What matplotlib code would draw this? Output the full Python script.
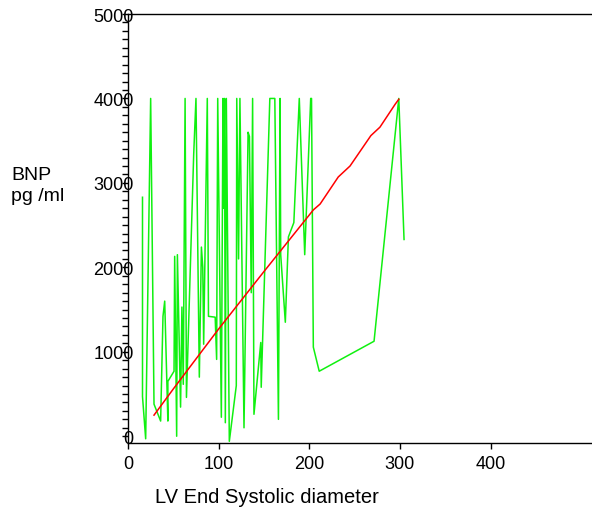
import numpy as np
import matplotlib
matplotlib.use("Agg")
import matplotlib.pyplot as plt
from matplotlib.ticker import MultipleLocator

plt.rcParams['font.family'] = ['Liberation Sans', 'DejaVu Sans']

# raw BNP values joined in order of LV end systolic diameter (green trace)
green_x = [16, 16, 19.5, 25, 28.7, 36, 38.6, 40.5, 44, 44,
           50.8, 51.5, 53.7, 54.5, 58, 59.5, 61, 63, 64.5, 72.5,
           75, 78.7, 81, 82.5, 83.5, 87.5, 88.8, 96.2, 97.8, 99,
           103, 104.8, 105.5, 106.5, 107.4, 108.5, 111.8, 119.5, 120, 122,
           123.5, 128, 132.5, 134, 136, 137.5, 139, 146.5, 147, 156.5,
           162, 166, 167.8, 168.5, 173.6, 177, 183, 189, 195, 201.6,
           202.5, 204.5, 211, 271.5, 298.8, 304.6]
green_y = [2830, 470, -30, 4000, 380, 180, 1420, 1600, 180, 650,
           770, 2130, 0, 2150, 345, 1530, 615, 4000, 460, 3340,
           4000, 700, 2240, 2000, 1090, 4000, 1420, 1410, 910, 4000,
           225, 4000, 2700, 4000, 160, 4000, -60, 600, 4000, 2100,
           4000, 100, 3600, 3550, 1700, 4000, 260, 1110, 580, 4000,
           4000, 200, 4000, 2150, 1350, 2360, 2530, 4000, 2150, 4000,
           4000, 1055, 770, 1125, 4000, 2330]

# fitted curve (red)
red_x = [28.7, 50, 100, 150, 204.5, 212, 232, 245, 268, 278, 294.7, 298.8]
red_y = [250, 560, 1270, 1950, 2680, 2750, 3070, 3200, 3560, 3660, 3930, 3990]

x_ticks = [0, 100, 200, 300, 400]
y_ticks = [0, 1000, 2000, 3000, 4000, 5000]

fig = plt.figure(figsize=(5.92, 5.10), dpi=100)
ax = fig.add_axes([128/592, 1 - 444/510, 1 - 128/592, (444 - 15)/510])

ax.plot(green_x, green_y, color='#10f010', lw=1.1, zorder=2)
ax.plot(red_x, red_y, color='#ff0000', lw=1.1, zorder=3)

ax.set_xlim(0, 512)
ax.set_ylim(-80, 5000)
ax.set_xticks(x_ticks)
ax.set_yticks(y_ticks)
ax.yaxis.set_minor_locator(MultipleLocator(100))

ax.spines['right'].set_visible(False)
for s in ['left', 'top', 'bottom']:
    ax.spines[s].set_linewidth(1.0)

ax.tick_params(axis='x', direction='out', length=4, width=1, labelsize=13, pad=5)
ax.tick_params(axis='y', which='major', direction='out', length=4, width=1, labelsize=13, pad=-8)
ax.tick_params(axis='y', which='minor', direction='out', length=4, width=1)

fig.text(155/592, 1 - 498/510, "LV End Systolic diameter", fontsize=14.5, va='center', ha='left')
fig.text(11/592, 1 - 175/510, "BNP", fontsize=14, va='center', ha='left')
fig.text(11/592, 1 - 197/510, "pg /ml", fontsize=14, va='center', ha='left')

fig.savefig("out.png", dpi=100)
